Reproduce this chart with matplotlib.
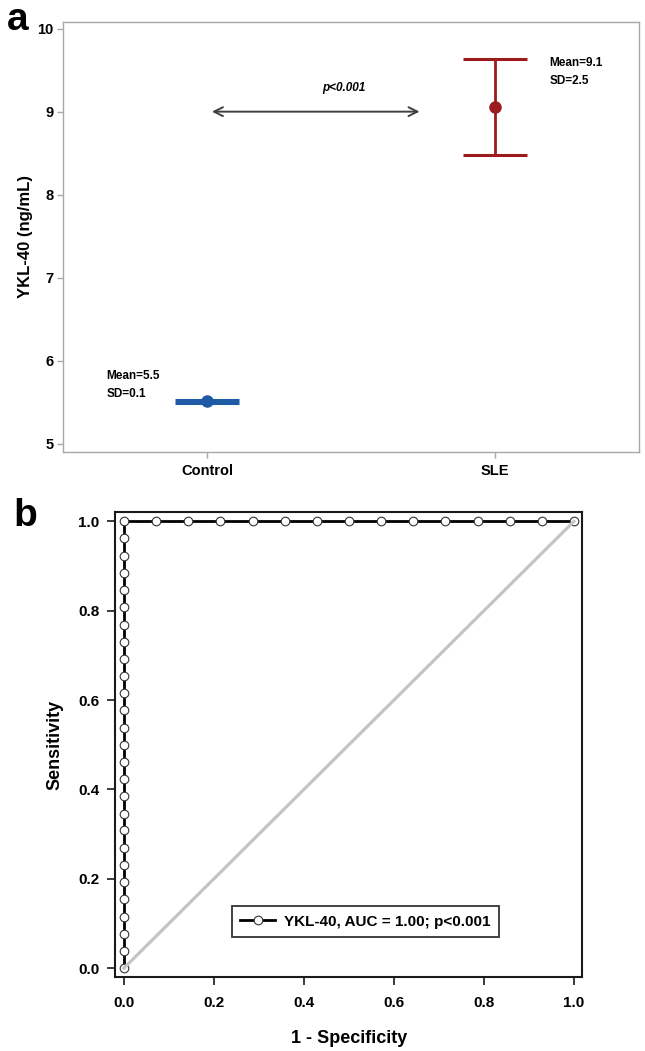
import matplotlib
matplotlib.use("Agg")
import matplotlib.pyplot as plt

# ---------------- data ----------------
groups = ["Control", "SLE"]
group_means = [5.51, 9.06]
group_err = [0.02, 0.58]
group_text = ["Mean=5.5\nSD=0.1", "Mean=9.1\nSD=2.5"]
group_colors = ["#1F5AA6", "#9B1B1E"]
p_text_a = "p<0.001"
yticks_a = [5, 6, 7, 8, 9, 10]

fpr = [0.0, 0.0, 0.0, 0.0, 0.0, 0.0, 0.0, 0.0, 0.0, 0.0, 0.0, 0.0, 0.0, 0.0,
       0.0, 0.0, 0.0, 0.0, 0.0, 0.0, 0.0, 0.0, 0.0, 0.0, 0.0, 0.0, 0.0,
       0.071, 0.143, 0.214, 0.286, 0.357, 0.429, 0.500, 0.571, 0.643, 0.714,
       0.786, 0.857, 0.929, 1.000]
tpr = [0.000, 0.038, 0.077, 0.115, 0.154, 0.192, 0.231, 0.269, 0.308, 0.346,
       0.385, 0.423, 0.462, 0.500, 0.538, 0.577, 0.615, 0.654, 0.692, 0.731,
       0.769, 0.808, 0.846, 0.885, 0.923, 0.962, 1.000,
       1.0, 1.0, 1.0, 1.0, 1.0, 1.0, 1.0, 1.0, 1.0, 1.0, 1.0, 1.0, 1.0, 1.0]
ref_x = [0.0, 1.0]
ref_y = [0.0, 1.0]
roc_label = "YKL-40, AUC = 1.00; p<0.001"
ticks_b = [0.0, 0.2, 0.4, 0.6, 0.8, 1.0]
tick_labels_b = ["0.0", "0.2", "0.4", "0.6", "0.8", "1.0"]

plt.rcParams["font.family"] = ["Liberation Sans", "DejaVu Sans"]
plt.rcParams["font.weight"] = "bold"

W, H = 645, 1051
fig = plt.figure(figsize=(W / 100, H / 100), dpi=100)

# ---------------- panel a ----------------
axa = fig.add_axes([63 / W, 1 - 452 / H, (639 - 63) / W, (452 - 22) / H])
xpos = list(range(len(groups)))
for i in xpos:
    axa.errorbar([xpos[i]], [group_means[i]], yerr=[group_err[i]], fmt="o",
                 color=group_colors[i], ecolor=group_colors[i], elinewidth=2,
                 capsize=23, capthick=2.2, markersize=8, zorder=3)
axa.set_xlim(-0.5, 1.5)
axa.set_ylim(4.9, 10.08)
axa.set_xticks(xpos)
axa.set_xticklabels(groups, fontsize=10.5, fontweight="bold")
axa.set_yticks(yticks_a)
axa.set_yticklabels([str(v) for v in yticks_a], fontsize=10.5, fontweight="bold")
for s in axa.spines.values():
    s.set_color("#A8A8A8")
    s.set_linewidth(1.0)
axa.tick_params(axis="both", color="#A8A8A8", length=4, width=1, pad=3)
axa.tick_params(axis="x", pad=4.5)
axa.set_ylabel("YKL-40 (ng/mL)", fontsize=12, fontweight="bold")
axa.yaxis.set_label_coords(-0.052, 0.5)

# annotations
axa.text(-0.35, 5.71, group_text[0], fontsize=8.5, fontweight="bold",
         va="center", ha="left", linespacing=1.7)
axa.text(1.19, 9.48, group_text[1], fontsize=8.5, fontweight="bold",
         va="center", ha="left", linespacing=1.7)
axa.annotate("", xy=(0.738, 9.0), xytext=(0.017, 9.0),
             arrowprops=dict(arrowstyle="<->", color="#404040", lw=1.4,
                             mutation_scale=16, shrinkA=0, shrinkB=0))
axa.text(0.476, 9.29, p_text_a, fontsize=8.5, fontweight="bold",
         style="italic", ha="center", va="center")

fig.text(7 / W, 1 - 30 / H, "a", fontsize=28, fontweight="bold",
         ha="left", va="baseline")

# ---------------- panel b ----------------
axb = fig.add_axes([115 / W, 1 - 977 / H, (582 - 115) / W, (977 - 512) / H])
axb.plot(fpr, tpr, color="black", lw=2.0, marker="o", markersize=6.2,
         markerfacecolor="white", markeredgecolor="#333333",
         markeredgewidth=0.8, label=roc_label, zorder=3)
axb.plot(ref_x, ref_y, color="#C4C4C4", lw=2.3, zorder=4)
axb.set_xlim(-0.02, 1.018)
axb.set_ylim(-0.02, 1.021)
axb.set_xticks(ticks_b)
axb.set_xticklabels(tick_labels_b, fontsize=11, fontweight="bold")
axb.set_yticks(ticks_b)
axb.set_yticklabels(tick_labels_b, fontsize=11, fontweight="bold")
for s in axb.spines.values():
    s.set_color("#1A1A1A")
    s.set_linewidth(1.5)
axb.tick_params(axis="both", color="#1A1A1A", length=6, width=1.2)
axb.tick_params(axis="x", pad=8)
axb.tick_params(axis="y", pad=5)
axb.set_ylabel("Sensitivity", fontsize=13, fontweight="bold")
axb.yaxis.set_label_coords(-0.111, 0.5)
axb.set_xlabel("1 - Specificity", fontsize=13, fontweight="bold")
axb.xaxis.set_label_coords(0.501, -0.114)

leg = axb.legend(loc="lower left", bbox_to_anchor=(0.25, 0.086),
                 borderaxespad=0, frameon=True, fancybox=False,
                 prop={"size": 11, "weight": "bold"}, handlelength=2.3,
                 handletextpad=0.6, borderpad=0.55)
leg.get_frame().set_edgecolor("black")
leg.get_frame().set_linewidth(1.3)

fig.text(13 / W, 1 - 526 / H, "b", fontsize=28, fontweight="bold",
         ha="left", va="baseline")

fig.savefig("out.png", dpi=100)
